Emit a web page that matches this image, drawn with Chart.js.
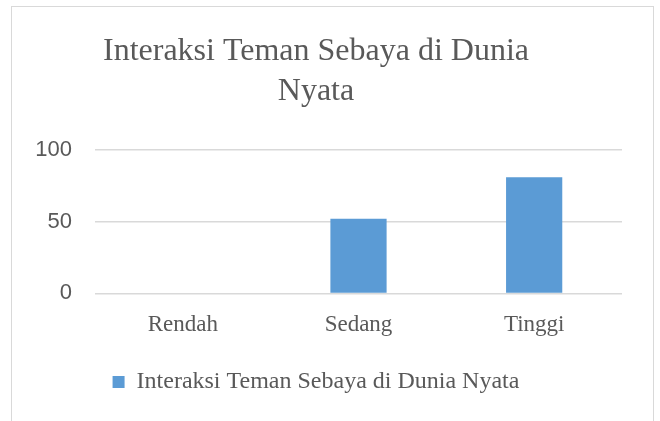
<!DOCTYPE html>
<html>
<head>
<meta charset="utf-8">
<script src="https://cdn.jsdelivr.net/npm/chart.js@4"></script>
<style>
  html, body { margin: 0; padding: 0; background: #fff; }
  #wrap { position: relative; width: 660px; height: 421px; overflow: hidden; }
  #frame { position: absolute; left: 11px; top: 6px; width: 643px; height: 440px; border: 1px solid #d9d9d9; box-sizing: border-box; }
  #myChart { position: absolute; left: 0; top: 0; }
</style>
</head>
<body>
<div id="wrap">
  <div id="frame"></div>
  <canvas id="myChart" width="660" height="421"></canvas>
</div>
<script>
// data
var categories = ['Rendah', 'Sedang', 'Tinggi'];
var seriesName = 'Interaksi Teman Sebaya di Dunia Nyata';
var values = [0, 52, 81];
var titleLines = ['Interaksi Teman Sebaya di Dunia', 'Nyata'];
var yTicks = [0, 50, 100];

var textColor = '#595959';
var gridColor = '#d9d9d9';
var barColor = '#5b9bd5';
var serif = '"Liberation Serif", "Times New Roman", serif';

var data = {
    labels: categories,
    datasets: [{
        label: seriesName,
        data: values,
        backgroundColor: barColor,
        borderWidth: 0,
        barPercentage: 0.64,
        categoryPercentage: 0.5
    }]
};

var options = {
    responsive: false,
    animation: false,
    layout: {
        padding: { left: 10, right: 38, top: 6, bottom: 17 }
    },
    plugins: {
        title: {
            display: true,
            text: titleLines,
            color: textColor,
            font: { family: serif, size: 32, weight: 'normal', lineHeight: 1.25 },
            padding: { top: 26, bottom: 38 }
        },
        legend: {
            position: 'bottom',
            labels: {
                color: textColor,
                boxWidth: 12,
                boxHeight: 12,
                padding: 21,
                font: { family: serif, size: 24 }
            }
        },
        tooltip: { enabled: false }
    },
    scales: {
        x: {
            grid: { display: false },
            border: { display: false },
            ticks: {
                color: textColor,
                padding: 10,
                font: { family: serif, size: 23 }
            }
        },
        y: {
            min: 0,
            max: 100,
            afterBuildTicks: function (scale) {
                scale.ticks = yTicks.map(function (v) { return { value: v }; });
            },
            afterFit: function (scale) {
                scale.width = 85;
            },
            grid: { color: gridColor, lineWidth: 1.5, drawTicks: false },
            border: { display: false },
            ticks: {
                color: textColor,
                padding: 23,
                font: { family: '"Liberation Sans", Arial, sans-serif', size: 22 }
            }
        }
    }
};

var ctx = document.getElementById('myChart').getContext('2d');
var myChart = new Chart(ctx, {
    type: 'bar',
    data: data,
    options: options
});
</script>
</body>
</html>
